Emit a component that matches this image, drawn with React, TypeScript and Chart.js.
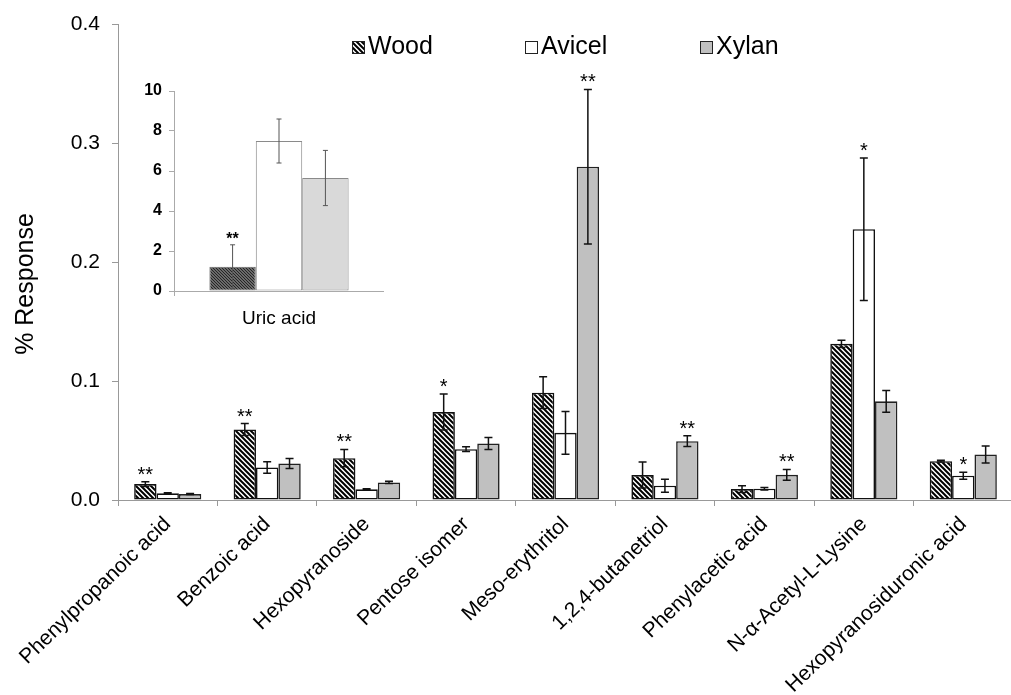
import React, { useEffect, useRef } from "react";
import { Chart, registerables } from "chart.js";

Chart.register(...registerables);

// ---- main panel data ----
const categories = [
  "Phenylpropanoic acid",
  "Benzoic acid",
  "Hexopyranoside",
  "Pentose isomer",
  "Meso-erythritol",
  "1,2,4-butanetriol",
  "Phenylacetic acid",
  "N-α-Acetyl-L-Lysine",
  "Hexopyranosiduronic acid",
];
const woodValues = [0.0134, 0.0593, 0.0352, 0.074, 0.0903, 0.021, 0.0092, 0.1314, 0.0327];
const woodErrors = [0.002, 0.005, 0.0073, 0.0151, 0.0134, 0.011, 0.0028, 0.003, 0.0008];
const avicelValues = [0.0056, 0.0274, 0.009, 0.0428, 0.0565, 0.012, 0.0095, 0.2278, 0.0204];
const avicelErrors = [0.0004, 0.0048, 0.0004, 0.002, 0.018, 0.0054, 0.001, 0.06, 0.003];
const xylanValues = [0.005, 0.0308, 0.0148, 0.0475, 0.2804, 0.0495, 0.0212, 0.083, 0.0383];
const xylanErrors = [0.0004, 0.0042, 0.001, 0.005, 0.065, 0.0045, 0.0045, 0.0092, 0.0072];
const woodSig = ["**", "**", "**", "*", "", "", "", "", ""];
const avicelSig = ["", "", "", "", "", "", "", "*", "*"];
const xylanSig = ["", "", "", "", "**", "**", "**", "", ""];
const yMin = 0;
const yMax = 0.4;
const yStep = 0.1;
const seriesNames = ["Wood", "Avicel", "Xylan"];

// ---- inset panel data ----
const insetCategories = ["Uric acid"];
const insetWood = [1.21];
const insetWoodErrors = [1.1];
const insetAvicel = [7.5];
const insetAvicelErrors = [1.1];
const insetXylan = [5.65];
const insetXylanErrors = [1.38];
const insetWoodSig = ["**"];
const insetMax = 10;
const insetStep = 2;

const FONT = "'Liberation Sans', Arial, Helvetica, sans-serif";
const NARROW = "'Liberation Sans Narrow', 'Arial Narrow', 'Liberation Sans', Arial, sans-serif";

function hatch(size: number, lineWidth: number, fg: string, bg: string) {
  const c = document.createElement("canvas");
  c.width = size;
  c.height = size;
  const g = c.getContext("2d")!;
  g.fillStyle = bg;
  g.fillRect(0, 0, size, size);
  g.strokeStyle = fg;
  g.lineWidth = lineWidth;
  g.beginPath();
  for (const k of [-size, 0, size]) {
    g.moveTo(k - 1, -1);
    g.lineTo(k + size + 1, size + 1);
  }
  g.stroke();
  return g.createPattern(c, "repeat")!;
}

type ErrCfg = {
  id: string;
  color: string;
  width: number;
  cap: number;
  sigFont: string;
  sigGap: number;
};

function errorBarPlugin(cfg: ErrCfg) {
  return {
    id: cfg.id,
    afterDatasetsDraw(chart: any) {
      const { ctx } = chart;
      const yScale = chart.scales.y;
      ctx.save();
      chart.data.datasets.forEach((ds: any, i: number) => {
        const meta = chart.getDatasetMeta(i);
        meta.data.forEach((bar: any, j: number) => {
          const v = ds.data[j] as number;
          const e = (ds.errorBars && ds.errorBars[j]) || 0;
          const x = bar.x;
          const top = yScale.getPixelForValue(v + e);
          const bot = yScale.getPixelForValue(Math.max(0, v - e));
          ctx.strokeStyle = cfg.color;
          ctx.lineWidth = cfg.width;
          ctx.beginPath();
          ctx.moveTo(x, top);
          ctx.lineTo(x, bot);
          ctx.moveTo(x - cfg.cap, top);
          ctx.lineTo(x + cfg.cap, top);
          ctx.moveTo(x - cfg.cap, bot);
          ctx.lineTo(x + cfg.cap, bot);
          ctx.stroke();
          const s = ds.sig && ds.sig[j];
          if (s) {
            ctx.fillStyle = "#000";
            ctx.font = cfg.sigFont;
            ctx.textAlign = "center";
            ctx.textBaseline = "alphabetic";
            ctx.fillText(s, x, top - cfg.sigGap);
          }
        });
      });
      ctx.restore();
    },
  };
}

const legendPlugin = {
  id: "topLegend",
  afterDraw(chart: any) {
    const { ctx } = chart;
    const xs = [352, 525, 700];
    ctx.save();
    chart.data.datasets.forEach((ds: any, i: number) => {
      const x = xs[i];
      ctx.fillStyle = ds.backgroundColor;
      ctx.fillRect(x, 41, 12, 12);
      ctx.strokeStyle = "#222";
      ctx.lineWidth = 1;
      ctx.strokeRect(x + 0.5, 41.5, 12, 12);
      ctx.fillStyle = "#000";
      ctx.font = `25px ${FONT}`;
      ctx.textAlign = "left";
      ctx.textBaseline = "alphabetic";
      ctx.fillText(ds.label, x + 16, 54);
    });
    ctx.restore();
  },
};

const yTitlePlugin = {
  id: "yTitle",
  afterDraw(chart: any) {
    const { ctx } = chart;
    ctx.save();
    ctx.translate(26, 284);
    ctx.rotate(-Math.PI / 2);
    ctx.fillStyle = "#000";
    ctx.font = `25px ${FONT}`;
    ctx.textAlign = "center";
    ctx.textBaseline = "middle";
    ctx.fillText("% Response", 0, 0);
    ctx.restore();
  },
};

export default function App() {
  const mainRef = useRef<HTMLCanvasElement>(null);
  const insetRef = useRef<HTMLCanvasElement>(null);

  useEffect(() => {
    const woodFill = hatch(5, 2, "#000", "#fff");
    const insetWoodFill = hatch(3, 1.2, "#222", "#8c8c8c");

    const main = new Chart(mainRef.current!, {
      type: "bar",
      data: {
        labels: categories,
        datasets: [
          {
            label: seriesNames[0],
            data: woodValues,
            backgroundColor: woodFill as any,
            borderColor: "#111",
            borderWidth: 1.6,
            borderSkipped: false,
            errorBars: woodErrors,
            sig: woodSig,
          } as any,
          {
            label: seriesNames[1],
            data: avicelValues,
            backgroundColor: "#ffffff",
            borderColor: "#111",
            borderWidth: 1.6,
            borderSkipped: false,
            errorBars: avicelErrors,
            sig: avicelSig,
          } as any,
          {
            label: seriesNames[2],
            data: xylanValues,
            backgroundColor: "#c0c0c0",
            borderColor: "#222",
            borderWidth: 1.6,
            borderSkipped: false,
            errorBars: xylanErrors,
            sig: xylanSig,
          } as any,
        ],
      },
      options: {
        responsive: false,
        animation: false,
        devicePixelRatio: 1,
        layout: { padding: { top: 23, right: 7, left: 0, bottom: 0 } },
        datasets: { bar: { categoryPercentage: 0.675, barPercentage: 1 } },
        plugins: { legend: { display: false }, tooltip: { enabled: false } },
        scales: {
          x: {
            grid: {
              display: true,
              drawOnChartArea: false,
              drawTicks: true,
              tickLength: 6,
              color: "#999",
              offset: true,
            },
            border: { color: "#999", width: 1 },
            ticks: {
              autoSkip: false,
              minRotation: 44,
              maxRotation: 44,
              color: "#000",
              padding: 6,
              font: { family: FONT, size: 21 },
            },
            afterFit: (s: any) => {
              s.height = 220;
            },
          },
          y: {
            min: yMin,
            max: yMax,
            ticks: {
              stepSize: yStep,
              color: "#000",
              padding: 12,
              font: { family: FONT, size: 21 },
              callback: (v: any) => Number(v).toFixed(1),
            },
            grid: { drawOnChartArea: false, tickLength: 6, color: "#999" },
            border: { color: "#999", width: 1 },
            afterFit: (s: any) => {
              s.width = 118;
            },
          },
        },
      } as any,
      plugins: [
        errorBarPlugin({
          id: "mainErr",
          color: "#111",
          width: 1.5,
          cap: 4,
          sigFont: `20px ${FONT}`,
          sigGap: 1,
        }),
        legendPlugin,
        yTitlePlugin,
      ],
    });

    const inset = new Chart(insetRef.current!, {
      type: "bar",
      data: {
        labels: insetCategories,
        datasets: [
          {
            label: seriesNames[0],
            data: insetWood,
            backgroundColor: insetWoodFill as any,
            borderColor: "#6a6a6a",
            borderWidth: 1,
            borderSkipped: false,
            errorBars: insetWoodErrors,
            sig: insetWoodSig,
          } as any,
          {
            label: seriesNames[1],
            data: insetAvicel,
            backgroundColor: "#ffffff",
            borderColor: "#8a8a8a",
            borderWidth: 1,
            borderSkipped: false,
            errorBars: insetAvicelErrors,
          } as any,
          {
            label: seriesNames[2],
            data: insetXylan,
            backgroundColor: "#d9d9d9",
            borderColor: "#8a8a8a",
            borderWidth: 1,
            borderSkipped: false,
            errorBars: insetXylanErrors,
          } as any,
        ],
      },
      options: {
        responsive: false,
        animation: false,
        devicePixelRatio: 1,
        layout: { padding: { top: 21, right: 0, left: 0, bottom: 0 } },
        datasets: { bar: { categoryPercentage: 0.663, barPercentage: 1 } },
        plugins: { legend: { display: false }, tooltip: { enabled: false } },
        scales: {
          x: {
            grid: {
              display: true,
              drawOnChartArea: false,
              drawTicks: true,
              tickLength: 5,
              color: "#aaa",
              offset: true,
            },
            border: { color: "#aaa", width: 1 },
            ticks: {
              color: "#000",
              padding: 11,
              font: { family: NARROW, size: 19 },
            },
            afterFit: (s: any) => {
              s.height = 49;
            },
          },
          y: {
            min: 0,
            max: insetMax,
            ticks: {
              stepSize: insetStep,
              color: "#000",
              padding: 7,
              font: { family: NARROW, size: 16, weight: "bold" },
            },
            grid: { drawOnChartArea: false, tickLength: 5, color: "#aaa" },
            border: { color: "#aaa", width: 1 },
            afterFit: (s: any) => {
              s.width = 54;
            },
          },
        },
      } as any,
      plugins: [
        errorBarPlugin({
          id: "insetErr",
          color: "#555",
          width: 1,
          cap: 2.5,
          sigFont: `bold 16px ${NARROW}`,
          sigGap: 1,
        }),
      ],
    });

    return () => {
      main.destroy();
      inset.destroy();
    };
  }, []);

  return (
    <div
      style={{
        position: "fixed",
        left: 0,
        top: 0,
        width: 1020,
        height: 720,
        background: "#fff",
      }}
    >
      <canvas ref={mainRef} width={1020} height={720} style={{ display: "block" }} />
      <canvas
        ref={insetRef}
        width={264}
        height={270}
        style={{ position: "absolute", left: 120, top: 70 }}
      />
    </div>
  );
}
